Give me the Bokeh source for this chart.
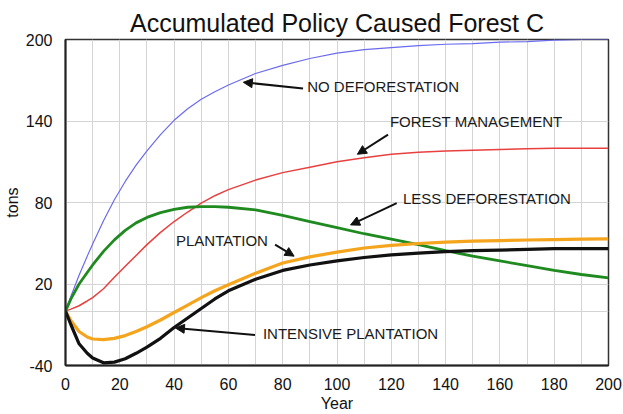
from bokeh.plotting import figure
from bokeh.models import Arrow, NormalHead, Label, FixedTicker, Range1d
from bokeh.embed import file_html
from bokeh.resources import INLINE

# Simulation output: accumulated forest carbon caused by each policy (tons)
years = [0, 2, 5, 8, 10, 14, 18, 22, 26, 30, 35, 40, 45, 50, 55, 60,
         70, 80, 90, 100, 110, 120, 130, 140, 150, 160, 170, 180, 190, 200]

no_deforestation = [0, 11, 26.5, 40.5, 49.5, 66.5, 82, 95.5, 107.5, 118, 130, 140.5, 149, 156, 161.5, 166.5,
                    175, 181, 186, 190, 192.5, 194, 195.5, 196.5, 197, 198, 198.5, 199.5, 200, 200]
forest_management = [0, 1.5, 4, 7.5, 10, 16.5, 25, 33, 41, 49, 58, 66, 73, 79.5, 85, 89.5,
                     96.5, 102, 106, 110, 113, 115.5, 117, 118, 118.5, 119, 119.5, 120, 120, 120]
less_deforestation = [0, 9, 20, 28.5, 34, 44, 52.5, 59.5, 65, 69, 72.5, 75, 76.5, 77, 77, 76.5,
                      74.5, 70.5, 66, 61.5, 57, 53, 49, 44.5, 40.5, 37, 33.5, 30, 27, 24.5]
plantation = [0, -7, -15, -19, -20.5, -21, -20, -18, -15, -11.5, -6.5, -1, 4.5, 10, 15, 19.5,
              28, 35.5, 40, 43.5, 46.5, 48.5, 49.8, 50.8, 51.5, 52, 52.4, 52.7, 53, 53.2]
intensive_plantation = [0, -10, -24, -31, -34.5, -38, -37.5, -35, -31, -26.5, -20, -12, -5, 2, 9, 15,
                        23.5, 30, 34, 37, 39.5, 41.5, 42.8, 43.8, 44.5, 45, 45.5, 46, 46, 46]

y_ticks = [-40, 20, 80, 140, 200]
y_tick_labels = ["-40", "20", "80", "140", "200"]
x_ticks = list(range(0, 201, 20))

FONT = "Liberation Sans"

p = figure(width=623, height=414, output_backend="svg", toolbar_location=None,
           x_range=Range1d(0, 200), y_range=Range1d(-40, 200),
           min_border_left=65, min_border_right=15, min_border_top=39, min_border_bottom=46,
           title="Accumulated Policy Caused Forest C")

p.title.align = "center"
p.title.text_font = FONT
p.title.text_font_size = "25px"
p.title.text_font_style = "normal"
p.title.text_color = "#111111"
p.title.offset = 32
p.title.standoff = 5

p.background_fill_color = "white"
p.border_fill_color = "white"
p.outline_line_color = "#333333"
p.outline_line_width = 1.5

# grid: verticals every 10 years, horizontals at the labelled levels plus zero
p.xgrid.ticker = FixedTicker(ticks=list(range(10, 200, 10)))
p.ygrid.ticker = FixedTicker(ticks=[0, 20, 80, 140])
p.grid.grid_line_color = "#d4d4d4"
p.grid.grid_line_width = 1

p.xaxis.ticker = FixedTicker(ticks=x_ticks)
p.yaxis.ticker = FixedTicker(ticks=y_ticks)
p.yaxis.major_label_overrides = {t: s for t, s in zip(y_ticks, y_tick_labels)}
for ax in (p.xaxis, p.yaxis):
    ax.major_tick_line_color = None
    ax.minor_tick_line_color = None
    ax.axis_line_color = "#222222"
    ax.axis_line_width = 2
    ax.major_label_text_font = FONT
    ax.major_label_text_font_size = "16px"
    ax.major_label_text_color = "#111111"
    ax.axis_label_text_font = FONT
    ax.axis_label_text_font_size = "16px"
    ax.axis_label_text_font_style = "normal"
    ax.axis_label_text_color = "#111111"
p.xaxis.axis_label = "Year"
p.yaxis.axis_label = "tons"
p.xaxis.major_label_standoff = 6
p.yaxis.major_label_standoff = 7
p.xaxis.axis_label_standoff = 2
p.yaxis.axis_label_standoff = 2

p.line(years, no_deforestation, line_color="#6b6bf0", line_width=1.2)
p.line(years, forest_management, line_color="#e8403f", line_width=1.5)
p.line(years, less_deforestation, line_color="#1f8a1f", line_width=2.8)
p.line(years, plantation, line_color="#f5a41d", line_width=3.2)
p.line(years, intensive_plantation, line_color="#111111", line_width=3.2)

# callouts: (text, text x, text y, arrow start x, y, arrow tip x, y)
callouts = [
    ("NO DEFORESTATION", 89, 159.5, 87.5, 164, 65.5, 168.5),
    ("FOREST MANAGEMENT", 119.5, 133.5, 118.8, 130, 107.5, 115.5),
    ("LESS DEFORESTATION", 124.3, 77, 122, 79.5, 105, 63.5),
    ("PLANTATION", 40.7, 46, 77.2, 49, 84.2, 40.5),
    ("INTENSIVE PLANTATION", 72.7, -22.5, 69.8, -17.5, 40.5, -12.4),
]
for text, tx, ty, x0, y0, x1, y1 in callouts:
    p.add_layout(Label(x=tx, y=ty, text=text, text_font=FONT, text_font_size="15px",
                       text_color="#1a1a1a"))
    p.add_layout(Arrow(x_start=x0, y_start=y0, x_end=x1, y_end=y1,
                       line_color="#111111", line_width=2,
                       end=NormalHead(size=9, fill_color="#111111", line_color="#111111")))

open("out.html", "w").write(file_html(p, INLINE))
